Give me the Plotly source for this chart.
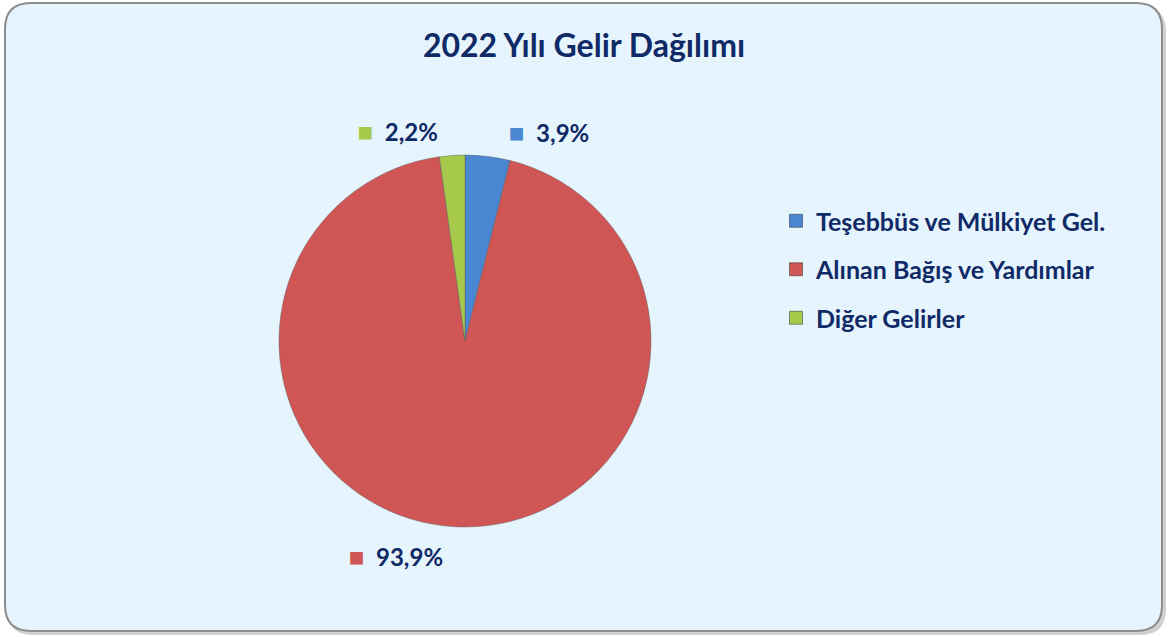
import plotly.graph_objects as go

title = "2022 Yılı Gelir Dağılımı"
categories = ["Teşebbüs ve Mülkiyet Gel.", "Alınan Bağış ve Yardımlar", "Diğer Gelirler"]
values = [3.9, 93.9, 2.2]
colors = ["#4A86D2", "#CF5654", "#A6C94C"]
text_color = "#0F2A66"

W, H = 1168, 637

def fmt(v):
    return f"{v:.1f}".replace(".", ",") + "%"

NB = "\u00a0"
texts = []
for i, (c, v) in enumerate(zip(colors, values)):
    core = f"<span style='color:{c};font-size:26px'>■</span>{NB}{NB}{fmt(v)}"
    if i == 0:
        texts.append(core + f"<span style='font-size:70px'>{NB}</span>")
    elif i == 1:
        texts.append(f"<span style='font-size:40px'>{NB}</span>" + core)
    else:
        texts.append(f"<sub><span style='font-size:48px'>{NB}</span></sub>" + core)

def rounded_rect(x0, y0, x1, y1, r):
    px = lambda x: x / W
    py = lambda y: 1 - y / H
    return (f"M {px(x0+r)},{py(y0)} L {px(x1-r)},{py(y0)} "
            f"Q {px(x1)},{py(y0)} {px(x1)},{py(y0+r)} "
            f"L {px(x1)},{py(y1-r)} Q {px(x1)},{py(y1)} {px(x1-r)},{py(y1)} "
            f"L {px(x0+r)},{py(y1)} Q {px(x0)},{py(y1)} {px(x0)},{py(y1-r)} "
            f"L {px(x0)},{py(y0+r)} Q {px(x0)},{py(y0)} {px(x0+r)},{py(y0)} Z")

fig = go.Figure()

fig.add_shape(type="path", xref="paper", yref="paper",
              path=rounded_rect(7, 6, 1166, 635, 26),
              fillcolor="rgba(120,120,120,0.35)", line=dict(width=0), layer="below")
fig.add_shape(type="path", xref="paper", yref="paper",
              path=rounded_rect(5, 3, 1162, 631, 26),
              fillcolor="#E6F4FD", line=dict(color="#8C8C8C", width=2), layer="below")

cx, cy, r = 465, 341, 186
fig.add_trace(go.Pie(
    labels=categories, values=values, text=texts,
    textinfo="text", textposition="outside",
    sort=False, direction="clockwise", rotation=0,
    marker=dict(colors=colors, line=dict(color="rgba(90,90,90,0.55)", width=0.8)),
    outsidetextfont=dict(family="Lato", size=24, color=text_color, weight="bold"),
    domain=dict(x=[(cx - r) / W, (cx + r) / W], y=[1 - (cy + r) / H, 1 - (cy - r) / H]),
    showlegend=False, hoverinfo="label+percent",
))

for i, (c, col) in enumerate(zip(categories, colors)):
    fig.add_trace(go.Scatter(
        x=[None], y=[None], mode="markers", name=c,
        marker=dict(symbol="square", size=13, color=col, line=dict(color="rgba(40,40,40,0.5)", width=1)),
        legendgroup=f"g{i}", showlegend=True,
    ))

fig.update_layout(
    width=W, height=H,
    margin=dict(l=0, r=0, t=0, b=0),
    paper_bgcolor="white", plot_bgcolor="rgba(0,0,0,0)",
    title=dict(text=title, x=0.5, xanchor="center", y=1 - 46 / H, yanchor="middle",
               font=dict(family="Lato", size=32, color=text_color, weight="bold")),
    xaxis=dict(visible=False), yaxis=dict(visible=False),
    legend=dict(x=776 / W, y=1 - 198 / H, xanchor="left", yanchor="top",
                font=dict(family="Lato", size=25, color=text_color, weight="bold"),
                tracegroupgap=13, bgcolor="rgba(0,0,0,0)", itemwidth=30),
    separators=",.",
)

fig.write_html("out.html", config={"displayModeBar": False},
               post_script="document.body.style.margin='0';document.body.style.overflow='hidden';")
